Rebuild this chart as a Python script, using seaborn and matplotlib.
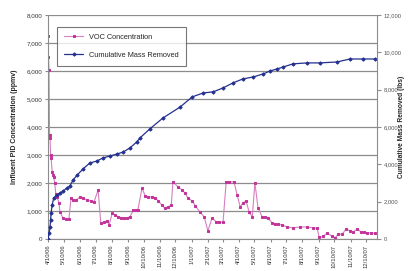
import matplotlib
matplotlib.use("Agg")
import matplotlib.pyplot as plt
import seaborn as sns
import pandas as pd
from matplotlib.ticker import FuncFormatter

# ---- data (days since 4/10/06) ----
voc_days = [0, 1, 2, 3, 4, 5, 6, 8, 10, 11, 13, 15, 17, 21, 23, 29, 34, 40, 44, 48, 54, 61, 67, 75, 82, 88,
            96, 101, 107, 113, 117, 123, 128, 134, 140, 146, 151, 157, 163, 168, 172, 180, 186, 192, 199, 205,
            211, 218, 224, 230, 236, 239, 249, 257, 262, 268, 276, 282, 291, 299, 306, 314, 322, 327, 335, 341,
            347, 356, 362, 368, 373, 379, 385, 391, 396, 402, 410, 416, 421, 429, 435, 440, 448, 458, 469, 483,
            496, 507, 515, 519, 527, 534, 544, 550, 555, 563, 571, 578, 584, 592, 599, 605, 611, 619, 626]
voc_ppmv = [7250, 6500, 6050, 3700, 3600, 3000, 2900, 2400, 2300, 2200, 2000, 1600, 1500, 1300, 960, 740, 700,
            700, 1460, 1400, 1390, 1500, 1450, 1400, 1350, 1320, 1750, 570, 600, 650, 500, 930, 850, 800, 760,
            740, 750, 800, 1020, 1040, 1040, 1820, 1540, 1500, 1500, 1480, 1360, 1210, 1100, 1150, 1210, 2040,
            1860, 1750, 1640, 1460, 1360, 1180, 960, 790, 290, 750, 610, 600, 600, 2040, 2040, 2040, 1570, 1140,
            1290, 1360, 960, 790, 2000, 1100, 790, 790, 760, 570, 530, 530, 500, 430, 400, 430, 430, 400, 390,
            60, 100, 210, 100, 50, 170, 180, 360, 290, 250, 360, 250, 250, 220, 220, 200]

mass_days = [0, 2, 4, 5, 6, 8, 11, 17, 23, 29, 36, 42, 48, 56, 67, 80, 94, 105, 119, 132, 144, 157, 170, 176,
             195, 220, 253, 276, 297, 316, 335, 354, 373, 393, 412, 425, 439, 450, 469, 496, 521, 553, 578, 603, 626]
mass_lbs = [0, 300, 640, 1020, 1390, 1820, 2200, 2360, 2460, 2570, 2730, 2840, 3160, 3430, 3750, 4070, 4180,
            4340, 4450, 4550, 4660, 4880, 5200, 5410, 5900, 6480, 7070, 7610, 7820, 7880, 8090, 8360, 8570,
            8680, 8840, 9000, 9110, 9210, 9380, 9430, 9430, 9480, 9640, 9640, 9640]

tick_labels = ["4/10/06", "5/10/06", "6/10/06", "7/10/06", "8/10/06", "9/10/06", "10/10/06", "11/10/06",
               "12/10/06", "1/10/07", "2/10/07", "3/10/07", "4/10/07", "5/10/07", "6/10/07", "7/10/07",
               "8/10/07", "9/10/07", "10/10/07", "11/10/07", "12/10/07"]

start = pd.Timestamp("2006-04-10")
voc_df = pd.DataFrame({"date": start + pd.to_timedelta(voc_days, unit="D"), "voc": voc_ppmv})
mass_df = pd.DataFrame({"date": start + pd.to_timedelta(mass_days, unit="D"), "mass": mass_lbs})
tick_dates = pd.to_datetime(tick_labels, format="%m/%d/%y")

sns.set_style("white")
plt.rcParams["font.family"] = ["Liberation Sans", "DejaVu Sans"]

fig = plt.figure(figsize=(4.10, 2.71), dpi=100)
ax = fig.add_axes([0.117, 0.118, 0.803, 0.827])
ax2 = ax.twinx()

pink = "#c2349a"
pink_line = "#d77fc0"
blue = "#25318f"

sns.lineplot(data=voc_df, x="date", y="voc", ax=ax, color=pink_line, lw=0.8, marker="s",
             markersize=1.9, markerfacecolor=pink, markeredgecolor=pink, label="VOC Concentration",
             legend=False)
sns.lineplot(data=mass_df, x="date", y="mass", ax=ax2, color=blue, lw=0.9, marker="D",
             markersize=1.7, markerfacecolor=blue, markeredgecolor=blue, label="Cumulative Mass Removed",
             legend=False)

ax.set_xlim(start, start + pd.Timedelta(days=630))
ax.set_ylim(0, 8000)
ax2.set_ylim(0, 12000)
ax.set_yticks(range(0, 8001, 1000))
ax2.set_yticks(range(0, 12001, 2000))
fmt = FuncFormatter(lambda v, p: f"{int(v):,}")
ax.yaxis.set_major_formatter(fmt)
ax2.yaxis.set_major_formatter(fmt)

ax.set_xticks(tick_dates)
ax.set_xticklabels(tick_labels, rotation=90, fontsize=4.2, color="#333333")

ax.grid(axis="y", color="#8c8c8c", lw=0.9)
ax.set_axisbelow(True)
for a in (ax, ax2):
    for s in a.spines.values():
        s.set_visible(False)
ax.spines["left"].set_visible(True)
ax.spines["left"].set_color("#8c8c8c")
ax.spines["bottom"].set_visible(True)
ax.spines["bottom"].set_color("#8c8c8c")
ax2.spines["right"].set_visible(True)
ax2.spines["right"].set_color("#8c8c8c")

ax.tick_params(axis="y", labelsize=4.5, colors="#333333", length=2, color="#8c8c8c", pad=2, left=True)
ax.tick_params(axis="x", length=2, color="#8c8c8c", pad=2, bottom=True)
ax2.tick_params(axis="y", labelsize=4.2, colors="#555555", length=3, color="#8c8c8c", pad=1.5, right=True)

ax.set_xlabel("")
ax.set_ylabel("Influent PID Concentration (ppmv)", fontsize=5, fontweight="bold", labelpad=6)
ax2.set_ylabel("Cumulative Mass Removed (lbs)", fontsize=4.8, fontweight="bold")
ax2.yaxis.set_label_coords(1.062, 0.5)

h1, l1 = ax.get_legend_handles_labels()
h2, l2 = ax2.get_legend_handles_labels()
leg = ax2.legend(h1 + h2, l1 + l2, loc="upper left", bbox_to_anchor=(0.027, 0.948),
                 fontsize=5.3, frameon=True, fancybox=False, edgecolor="#555555",
                 borderpad=1.0, labelspacing=1.4, handlelength=2.6, borderaxespad=0)
leg.get_frame().set_linewidth(0.8)

fig.savefig("out.png", dpi=100, facecolor="white")
